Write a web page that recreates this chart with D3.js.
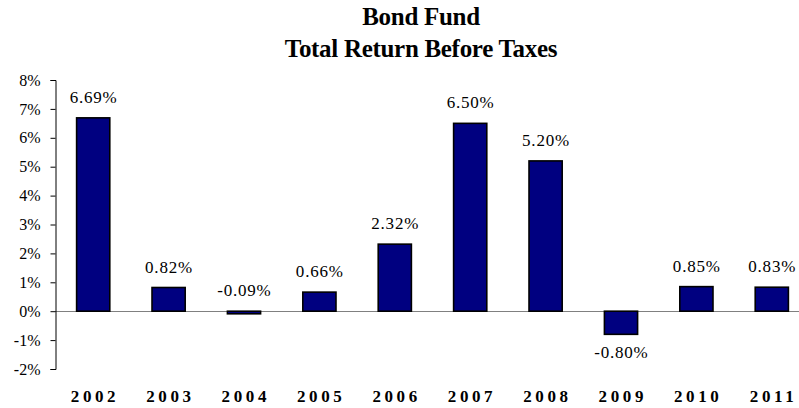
<!DOCTYPE html>
<html>
<head>
<meta charset="utf-8">
<script src="https://cdn.jsdelivr.net/npm/d3@7"></script>
<style>
  html, body { margin: 0; padding: 0; background: #fff; }
  svg { display: block; }
</style>
</head>
<body>
<script>
const titleLines = ["Bond Fund", "Total Return Before Taxes"];
const years = ["2002", "2003", "2004", "2005", "2006", "2007", "2008", "2009", "2010", "2011"];
const returns = [6.69, 0.82, -0.09, 0.66, 2.32, 6.50, 5.20, -0.80, 0.85, 0.83];
const yTicks = [-2, -1, 0, 1, 2, 3, 4, 5, 6, 7, 8];

const W = 799, H = 408;
const SERIF = "'Liberation Serif', 'Times New Roman', serif";
const svg = d3.select("body").append("svg").attr("width", W).attr("height", H)
  .style("font-family", SERIF);

const x = d3.scaleBand().domain(years).range([55.5, 809.5]).paddingInner(0.56).paddingOuter(0.28);
const y = d3.scaleLinear().domain([-2, 8]).range([369, 80]);

// title
svg.selectAll("text.title").data(titleLines).join("text")
  .attr("class", "title")
  .attr("x", 421).attr("y", (d, i) => 25 + i * 32)
  .attr("text-anchor", "middle")
  .style("font-family", SERIF)
  .attr("font-size", 25).attr("font-weight", "bold")
  .attr("letter-spacing", -0.3)
  .text(d => d);

// zero line
svg.append("line")
  .attr("x1", 55).attr("x2", W)
  .attr("y1", Math.round(y(0)) + 0.5).attr("y2", Math.round(y(0)) + 0.5)
  .attr("stroke", "#808080").attr("stroke-width", 1);

// y axis
const yAxis = d3.axisLeft(y).tickValues(yTicks).tickSize(5).tickPadding(10)
  .tickFormat(d => d + "%");
const gy = svg.append("g").attr("transform", "translate(55.5,0)").call(yAxis);
gy.attr("font-family", null);
gy.select(".domain").attr("stroke", "#000");
gy.selectAll(".tick line").attr("stroke", "#000");
gy.selectAll(".tick text").style("font-family", SERIF)
  .attr("font-size", 16).attr("fill", "#000");

// bars
svg.selectAll("rect.bar").data(years).join("rect")
  .attr("class", "bar")
  .attr("x", d => x(d))
  .attr("width", x.bandwidth())
  .attr("y", (d, i) => y(Math.max(0, returns[i])))
  .attr("height", (d, i) => Math.max(1.5, Math.abs(y(returns[i]) - y(0))))
  .attr("fill", "#000080")
  .attr("stroke", "#000").attr("stroke-width", 1.6);

// value labels
svg.selectAll("text.val").data(years).join("text")
  .attr("class", "val")
  .attr("x", d => x(d) + x.bandwidth() / 2 + 0.4)
  .attr("y", (d, i) => returns[i] < -0.5 ? y(returns[i]) + 24 : y(Math.max(0, returns[i])) - 15)
  .attr("text-anchor", "middle")
  .style("font-family", SERIF)
  .attr("font-size", 17)
  .attr("letter-spacing", 0.8)
  .text((d, i) => returns[i].toFixed(2) + "%");

// x labels
svg.selectAll("text.year").data(years).join("text")
  .attr("class", "year")
  .attr("x", d => x(d) + x.bandwidth() / 2 + 1.8)
  .attr("y", 402)
  .attr("text-anchor", "middle")
  .style("font-family", SERIF)
  .attr("font-size", 17).attr("font-weight", "bold")
  .attr("letter-spacing", 3.6)
  .text(d => d);
</script>
</body>
</html>
